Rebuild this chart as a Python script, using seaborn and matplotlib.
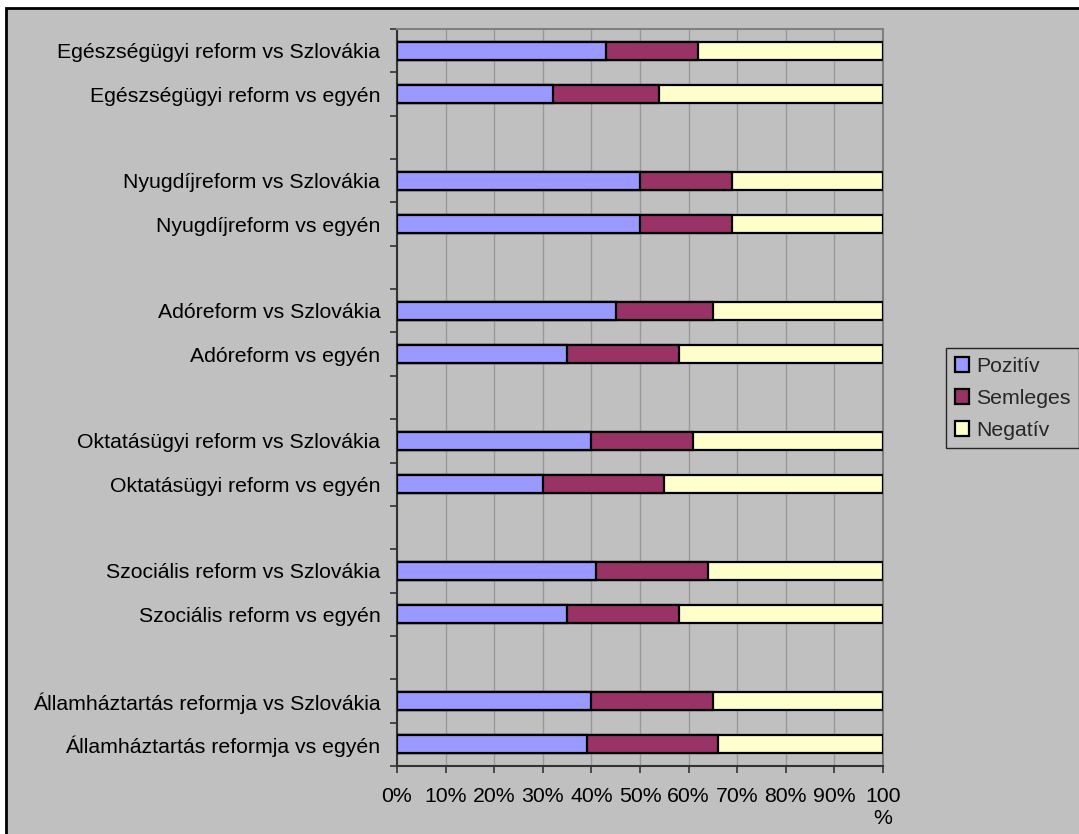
import matplotlib
matplotlib.use("Agg")
import matplotlib.pyplot as plt
from matplotlib.patches import Rectangle, Patch
import numpy as np
import pandas as pd
import seaborn as sns

# Survey answers per reform, in percent
categories = [
    "Egészségügyi reform vs Szlovákia",
    "Egészségügyi reform vs egyén",
    "Nyugdíjreform vs Szlovákia",
    "Nyugdíjreform vs egyén",
    "Adóreform vs Szlovákia",
    "Adóreform vs egyén",
    "Oktatásügyi reform vs Szlovákia",
    "Oktatásügyi reform vs egyén",
    "Szociális reform vs Szlovákia",
    "Szociális reform vs egyén",
    "Államháztartás reformja vs Szlovákia",
    "Államháztartás reformja vs egyén",
]
pozitiv = [43, 32, 50, 50, 45, 35, 40, 30, 41, 35, 40, 39]
semleges = [19, 22, 19, 19, 20, 23, 21, 25, 23, 23, 25, 27]
negativ = [38, 46, 31, 31, 35, 42, 39, 45, 36, 42, 35, 34]

series_names = ["Pozitív", "Semleges", "Negatív"]
series_colors = ["#9999FF", "#993366", "#FFFFCC"]
x_ticks = [0, 10, 20, 30, 40, 50, 60, 70, 80, 90, 100]
x_labels = ["0%", "10%", "20%", "30%", "40%", "50%", "60%", "70%", "80%", "90%", "100\n%"]

FS = 15.3

sns.set_style("ticks")
plt.rcParams["font.family"] = ["Liberation Sans", "DejaVu Sans"]

df = pd.DataFrame({"kategoria": categories, "Pozitív": pozitiv,
                   "Semleges": semleges, "Negatív": negativ})
df["cum_sem"] = df["Pozitív"] + df["Semleges"]
df["cum_neg"] = df["cum_sem"] + df["Negatív"]

# category order with an empty slot between each pair of reforms
order = []
for i in range(0, len(categories), 2):
    order += [categories[i], categories[i + 1]]
    if i + 2 < len(categories):
        order.append(f"__gap{i}")

fig = plt.figure(figsize=(10.79, 8.34), dpi=100)
fig.patch.set_facecolor("white")
fig.patches.append(Rectangle((6 / 1079, -0.05), 1.1, 1 - 8 / 834 + 0.05,
                             transform=fig.transFigure, facecolor="#C0C0C0",
                             edgecolor="black", linewidth=2, zorder=-10))

ax = fig.add_axes([397 / 1079, 1 - 766 / 834, 486 / 1079, 737 / 834])
ax.set_facecolor("#C0C0C0")

bar_kw = dict(orient="h", order=order, errorbar=None, width=0.41,
              edgecolor="black", linewidth=1.6, ax=ax, zorder=3)
sns.barplot(data=df, x="cum_neg", y="kategoria", color=series_colors[2],
            saturation=1, **bar_kw)
sns.barplot(data=df, x="cum_sem", y="kategoria", color=series_colors[1],
            saturation=1, **bar_kw)
sns.barplot(data=df, x="Pozitív", y="kategoria", color=series_colors[0],
            saturation=1, **bar_kw)

n = len(order)
ax.set_ylim(n - 0.5, -0.5)
ax.set_xlim(0, 100)

# labels at category centres, tick marks on slot boundaries
centres = [order.index(c) for c in categories]
ax.set_yticks(centres, categories)
ax.set_yticks(np.arange(n + 1) - 0.5, minor=True)
ax.tick_params(axis="y", which="major", length=0, pad=12, labelsize=FS,
               labelcolor="black")
ax.tick_params(axis="y", which="minor", length=5, width=1.2, color="#333333",
               direction="out")
ax.set_xticks(x_ticks, x_labels)
ax.tick_params(axis="x", length=5, width=1.2, color="#333333", pad=10,
               labelsize=FS, labelcolor="black")
ax.set_xlabel("")
ax.set_ylabel("")

ax.grid(axis="x", color="#999999", linewidth=1.0, zorder=1)
ax.set_axisbelow(True)
for side in ["top", "right"]:
    ax.spines[side].set_color("#808080")
    ax.spines[side].set_linewidth(1.5)
for side in ["left", "bottom"]:
    ax.spines[side].set_color("#333333")
    ax.spines[side].set_linewidth(1.5)

handles = [Patch(facecolor=c, edgecolor="black", linewidth=1.6)
           for c in series_colors]
leg = fig.legend(handles, series_names, loc="upper left",
                 bbox_to_anchor=(946 / 1079, 1 - 348 / 834),
                 fontsize=FS, frameon=True, fancybox=False,
                 handlelength=0.7, handleheight=0.7, handletextpad=0.3,
                 labelspacing=0.62, borderpad=0.4, borderaxespad=0)
leg.get_frame().set_edgecolor("black")
leg.get_frame().set_linewidth(1)
leg.get_frame().set_facecolor("#C0C0C0")

fig.savefig("out.png", dpi=100, facecolor=fig.get_facecolor())
